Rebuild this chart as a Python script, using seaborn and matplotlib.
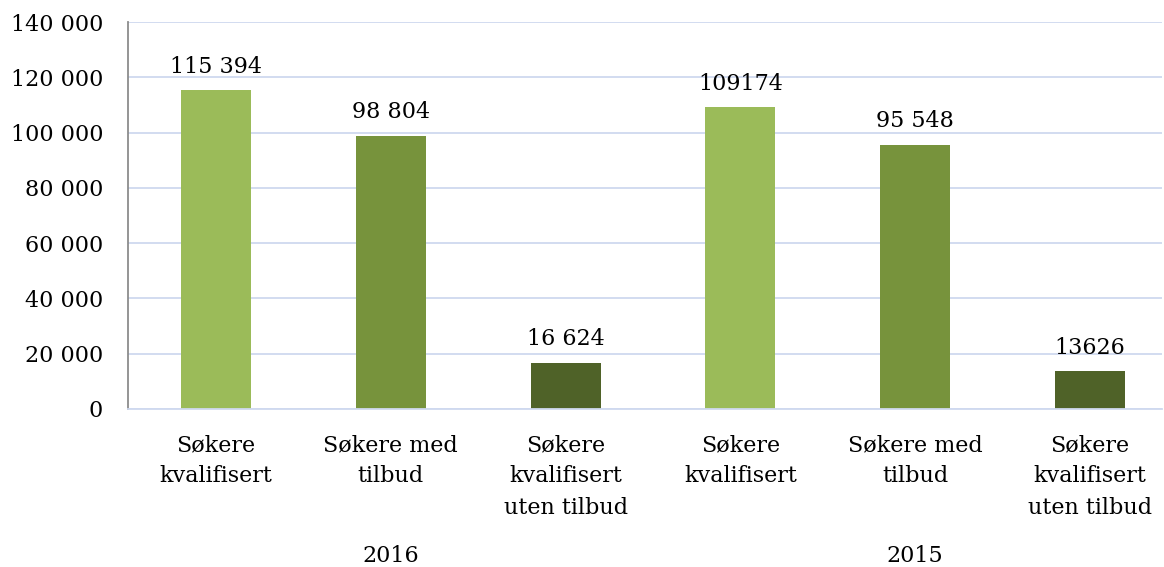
import matplotlib
matplotlib.use("Agg")
import matplotlib.pyplot as plt
import seaborn as sns
import pandas as pd

years = ["2016", "2015"]
categories = ["Søkere\nkvalifisert", "Søkere med\ntilbud", "Søkere\nkvalifisert\nuten tilbud"]
values_2016 = [115394, 98804, 16624]
values_2015 = [109174, 95548, 13626]
value_labels = ["115 394", "98 804", "16 624", "109174", "95 548", "13626"]
yticks = [0, 20000, 40000, 60000, 80000, 100000, 120000, 140000]
ytick_labels = ["0", "20 000", "40 000", "60 000", "80 000", "100 000", "120 000", "140 000"]
colors = ["#9BBB59", "#77933C", "#4F6228"]

sns.set_theme(style="white")
plt.rcParams['font.family'] = ['DejaVu Serif']
plt.rcParams['text.color'] = 'black'

rows = []
for y, vals in zip(years, [values_2016, values_2015]):
    for i, (c, v) in enumerate(zip(categories, vals)):
        rows.append({"slot": f"{y}-{i}", "cat": c, "ci": str(i), "value": v})
df = pd.DataFrame(rows)

fig = plt.figure(figsize=(11.64, 5.67), dpi=100)
ax = fig.add_axes([0.110, 0.279, 0.888, 0.682])
sns.barplot(data=df, x="slot", y="value", hue="ci", palette=colors, dodge=False,
            width=0.4, legend=False, ax=ax, saturation=1, linewidth=0)

ax.set_ylim(0, 140000)
ax.set_xlim(-0.503, 5.41)
ax.set_yticks(yticks)
ax.set_yticklabels(ytick_labels, fontsize=16, color="black")
ax.yaxis.grid(True, color="#CFD9EF", linewidth=1.3)
ax.set_axisbelow(True)
for s in ["top", "right"]:
    ax.spines[s].set_visible(False)
ax.spines["left"].set_color("#8C8C8C")
ax.spines["left"].set_linewidth(1.3)
ax.spines["bottom"].set_color("#CFD9EF")
ax.spines["bottom"].set_linewidth(1.3)
ax.tick_params(axis="y", length=0, pad=18)
ax.tick_params(axis="x", length=0, pad=18)
ax.set_xticks(range(6))
ax.set_xticklabels(categories * 2, fontsize=16, va="top", linespacing=1.55, color="black")
ax.set_xlabel("")
ax.set_ylabel("")

for i, (v, lab) in enumerate(zip(values_2016 + values_2015, value_labels)):
    ax.annotate(lab, (i, v), xytext=(0, 9), textcoords="offset points",
                ha="center", va="bottom", fontsize=16, color="black")

for g, y in enumerate(years):
    ax.text(1 + 3 * g, -0.38, y, transform=ax.get_xaxis_transform(),
            ha="center", va="center", fontsize=16, color="black")

fig.savefig("out.png", dpi=100)
